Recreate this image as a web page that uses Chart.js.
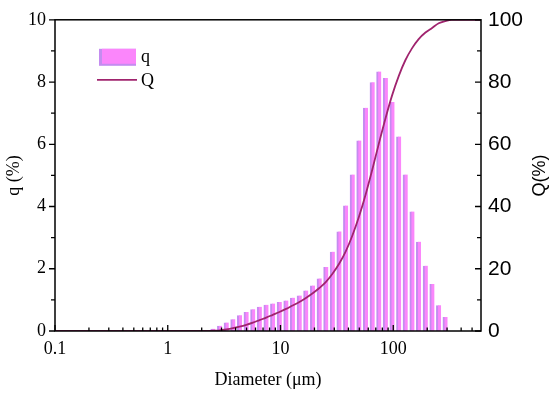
<!DOCTYPE html>
<html><head><meta charset="utf-8">
<script src="https://cdn.jsdelivr.net/npm/chart.js@4.4.0/dist/chart.umd.min.js"></script>
<style>html,body{margin:0;padding:0;background:#fff;} #wrap{width:550px;height:396px;position:relative;}</style>
</head><body><div id="wrap"><canvas id="c"></canvas></div>
<script>
// ---- data ----
const diameters = [2.52,2.89,3.31,3.79,4.34,4.97,5.69,6.51,7.46,8.54,9.78,11.2,12.8,14.7,16.8,19.3,22.1,25.3,28.9,33.1,37.9,43.4,49.7,56.9,65.2,74.6,85.4,97.8,112,128,147,168,193,221,253,289];
const qValues  = [0.07,0.17,0.27,0.38,0.51,0.61,0.70,0.78,0.84,0.88,0.93,0.98,1.07,1.14,1.30,1.46,1.69,2.06,2.55,3.20,4.03,5.03,6.12,7.17,7.99,8.34,8.13,7.36,6.25,5.03,3.84,2.87,2.10,1.51,0.83,0.45];
const curveDiameters = [0.1,1,2.2,2.52,2.89,3.31,3.79,4.34,4.97,5.69,6.51,7.46,8.54,9.78,11.2,12.8,14.7,16.8,19.3,22.1,25.3,28.9,33.1,37.9,43.4,49.7,56.9,65.2,74.6,85.4,97.8,112,128,147,168,193,221,253,289,330,600];
const QValues = [0,0,0,0.1,0.2,0.5,0.9,1.4,2.0,2.7,3.5,4.3,5.2,6.1,7.1,8.2,9.3,10.6,12.1,13.8,15.8,18.4,21.6,25.6,30.7,36.8,43.9,51.9,60.3,68.4,75.8,82.0,87.0,90.9,93.8,95.9,97.4,98.9,99.6,100,100];
const xTickLabels = [0.1, 1, 10, 100];
const xMinorTicks = [0.2,0.3,0.4,0.5,0.6,0.7,0.8,0.9,2,3,4,5,6,7,8,9,20,30,40,50,60,70,80,90,200,300,400,500];
const qTicks = [0,2,4,6,8,10];
const qMinor = [1,3,5,7,9];
const QTicks = [0,20,40,60,80,100];
const QMinor = [10,30,50,70,90];

const SERIF = "'Times New Roman','Liberation Serif',serif";
const SANS = "Arial,'Liberation Sans',sans-serif";
const BAR_FILL = '#fb86fb', BAR_EDGE = '#c48cf0', LINE_COL = '#a0246e';

const decor = {
  id: 'decor',
  afterDraw(chart) {
    const {ctx, chartArea: a, scales} = chart;
    const x = scales.x, y = scales.y, y2 = scales.y2;
    ctx.save();
    ctx.strokeStyle = '#000';
    ctx.lineWidth = 1.3;
    ctx.beginPath();
    xTickLabels.forEach(v => { const p = x.getPixelForValue(v); ctx.moveTo(p, a.bottom); ctx.lineTo(p, a.bottom - 6); });
    xMinorTicks.forEach(v => { const p = x.getPixelForValue(v); ctx.moveTo(p, a.bottom); ctx.lineTo(p, a.bottom - 3.5); });
    qTicks.forEach(v => { const p = y.getPixelForValue(v); ctx.moveTo(a.left, p); ctx.lineTo(a.left - 6, p); });
    qMinor.forEach(v => { const p = y.getPixelForValue(v); ctx.moveTo(a.left, p); ctx.lineTo(a.left - 4, p); });
    QTicks.forEach(v => { const p = y2.getPixelForValue(v); ctx.moveTo(a.right, p); ctx.lineTo(a.right - 6, p); });
    QMinor.forEach(v => { const p = y2.getPixelForValue(v); ctx.moveTo(a.right, p); ctx.lineTo(a.right - 4, p); });
    ctx.stroke();
    ctx.lineWidth = 1.5;
    ctx.strokeRect(a.left, a.top, a.right - a.left, a.bottom - a.top);

    // legend
    const lx = a.left + 44, ly = a.top + 29;
    ctx.fillStyle = BAR_EDGE; ctx.fillRect(lx, ly, 37, 17);
    ctx.fillStyle = BAR_FILL; ctx.fillRect(lx + 3, ly, 34, 15);
    ctx.strokeStyle = LINE_COL; ctx.lineWidth = 1.8;
    ctx.beginPath(); ctx.moveTo(lx - 2, ly + 31); ctx.lineTo(lx + 38, ly + 31); ctx.stroke();
    ctx.fillStyle = '#000';
    ctx.font = '18px ' + SERIF;
    ctx.textAlign = 'left'; ctx.textBaseline = 'middle';
    ctx.fillText('q', lx + 42, ly + 8);
    ctx.fillText('Q', lx + 42, ly + 32);

    // right axis title (reads bottom-to-top)
    ctx.translate(540, (a.top + a.bottom) / 2);
    ctx.rotate(-Math.PI / 2);
    ctx.font = '18px ' + SANS;
    ctx.textAlign = 'center'; ctx.textBaseline = 'middle';
    ctx.fillText('Q(%)', 0, 0);
    ctx.restore();
  }
};

new Chart(document.getElementById('c'), {
  type: 'bar',
  data: {
    datasets: [
      {
        type: 'line', label: 'Q', yAxisID: 'y2', order: 1,
        data: curveDiameters.map((d, i) => ({x: d, y: QValues[i]})),
        borderColor: LINE_COL, borderWidth: 1.8, pointRadius: 0,
        cubicInterpolationMode: 'monotone', fill: false
      },
      {
        type: 'bar', label: 'q', yAxisID: 'y', order: 2,
        data: diameters.map((d, i) => ({x: d, y: qValues[i]})),
        backgroundColor: BAR_FILL, borderColor: BAR_EDGE,
        borderWidth: {left: 2, right: 0, top: 0, bottom: 0}, borderSkipped: false,
        barThickness: 4.7
      }
    ]
  },
  options: {
    responsive: true, maintainAspectRatio: false, devicePixelRatio: 1,
    animation: false, events: [],
    layout: {padding: {top: 16, left: 0, right: 0, bottom: 0}},
    plugins: {legend: {display: false}, tooltip: {enabled: false}},
    scales: {
      x: {
        type: 'logarithmic', position: 'bottom', min: 0.1, max: 600,
        grid: {display: false, drawTicks: false}, border: {display: false},
        afterBuildTicks: s => { s.ticks = xTickLabels.map(v => ({value: v})); },
        afterFit: s => { s.height = 65; },
        ticks: {autoSkip: false, maxRotation: 0, padding: 7, color: '#000',
                font: {family: SERIF, size: 18}, callback: v => String(v)},
        title: {display: true, text: 'Diameter (μm)', color: '#000',
                font: {family: SERIF, size: 18}, padding: {top: 0, bottom: 5}}
      },
      y: {
        position: 'left', min: 0, max: 10,
        grid: {display: false, drawTicks: false}, border: {display: false},
        afterFit: s => { s.width = 55; },
        ticks: {stepSize: 2, padding: 9, color: '#000', font: {family: SERIF, size: 18}},
        title: {display: true, text: 'q (%)', color: '#000',
                font: {family: SERIF, size: 18}, padding: {top: 3, bottom: 0}}
      },
      y2: {
        position: 'right', min: 0, max: 100,
        grid: {display: false, drawTicks: false}, border: {display: false},
        afterFit: s => { s.width = 69; },
        ticks: {stepSize: 20, padding: 7, color: '#000', font: {family: SANS, size: 21}}
      }
    }
  },
  plugins: [decor]
});
</script>
</body></html>
